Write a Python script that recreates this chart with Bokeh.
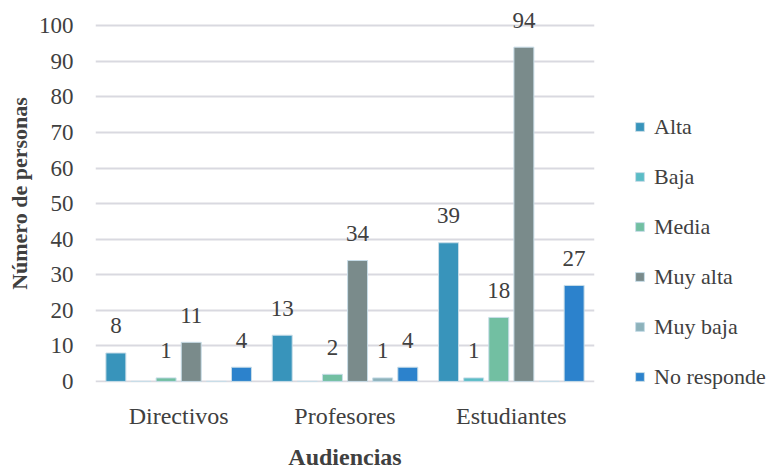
from bokeh.plotting import figure
from bokeh.models import FactorRange, Range1d, ColumnDataSource, Legend, LegendItem, SingleIntervalTicker
from bokeh.transform import dodge
from bokeh.core.properties import value
from bokeh.embed import file_html
from bokeh.resources import INLINE

categories = ["Directivos", "Profesores", "Estudiantes"]
series = ["Alta", "Baja", "Media", "Muy alta", "Muy baja", "No responde"]
alta = [8, 13, 39]
baja = [0, 0, 1]
media = [1, 2, 18]
muy_alta = [11, 34, 94]
muy_baja = [0, 1, 0]
no_responde = [4, 4, 27]
values = [alta, baja, media, muy_alta, muy_baja, no_responde]
colors = ["#3894bb", "#5bbcc6", "#72bfa2", "#7a8b8b", "#8db2bb", "#2c82cc"]

FONT = "'Liberation Serif', 'Times New Roman', serif"
TXT = "#404040"

p = figure(x_range=FactorRange(*categories, range_padding=0),
           y_range=Range1d(-0.3, 106),
           frame_width=499, frame_height=378,
           min_border_left=95, min_border_right=172,
           min_border_top=4, min_border_bottom=72,
           output_backend="svg", toolbar_location=None)

p.outline_line_color = None
p.xgrid.grid_line_color = None
p.ygrid.grid_line_color = "#d9d9e0"
p.ygrid.grid_line_width = 2
p.yaxis.ticker = SingleIntervalTicker(interval=10)

for ax in (p.xaxis, p.yaxis):
    ax.axis_line_color = None
    ax.major_tick_line_color = None
    ax.minor_tick_line_color = None
    ax.major_tick_out = 0
    ax.major_tick_in = 0
    ax.minor_tick_out = 0
    ax.minor_tick_in = 0
    ax.major_label_text_font = FONT
    ax.major_label_text_color = TXT
    ax.axis_label_text_font = FONT
    ax.axis_label_text_font_style = "bold"
    ax.axis_label_text_color = TXT

p.yaxis.major_label_text_font_size = "23px"
p.xaxis.major_label_text_font_size = "24px"
p.yaxis.axis_label_text_font_size = "22px"
p.xaxis.axis_label_text_font_size = "24px"

p.yaxis.axis_label = "Número de personas"
p.yaxis.major_label_standoff = 22
p.yaxis.axis_label_standoff = 4
p.xaxis.axis_label = "Audiencias"
p.xaxis.major_label_standoff = 20
p.xaxis.axis_label_standoff = 12

step = 0.151
width = 0.12
items = []
for i, (name, vals, col) in enumerate(zip(series, values, colors)):
    off = (i - 2.5) * step
    src = ColumnDataSource(dict(cat=categories, v=vals,
                                lab=[str(v) if v > 0 else "" for v in vals]))
    r = p.vbar(x=dodge("cat", off, range=p.x_range), top="v", bottom=0, width=width,
               source=src, fill_color=col, line_color="#c8dde8", line_width=1)
    p.text(x=dodge("cat", off, range=p.x_range), y="v", text="lab", source=src,
           text_font=value(FONT), text_font_size="23px", text_color=TXT,
           text_align="center", text_baseline="alphabetic", y_offset=-27)
    items.append(LegendItem(label=name, renderers=[r]))

legend = Legend(items=items, location=(40, -9),
                glyph_width=11, glyph_height=11, label_height=29, spacing=21,
                label_standoff=9, padding=0, margin=0,
                label_text_font=FONT, label_text_font_size="22px", label_text_color=TXT,
                border_line_color=None, background_fill_alpha=0)
p.add_layout(legend, "right")

open("out.html", "w").write(file_html(p, INLINE))
